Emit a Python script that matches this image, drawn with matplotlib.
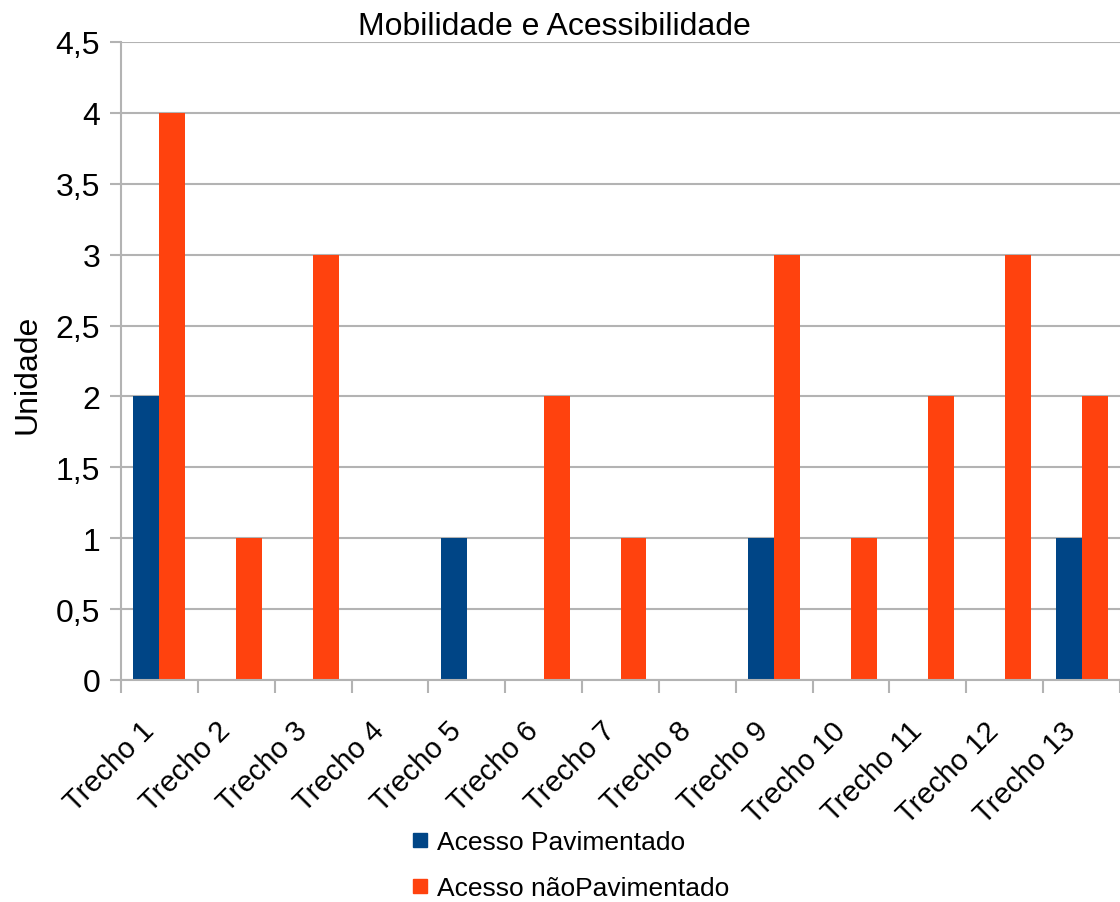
import matplotlib
matplotlib.use("Agg")
import matplotlib.pyplot as plt
from matplotlib.lines import Line2D
import numpy as np

plt.rcParams['font.family'] = ['Liberation Sans', 'DejaVu Sans']

categories = ["Trecho 1", "Trecho 2", "Trecho 3", "Trecho 4", "Trecho 5", "Trecho 6",
              "Trecho 7", "Trecho 8", "Trecho 9", "Trecho 10", "Trecho 11", "Trecho 12",
              "Trecho 13"]
acesso_pavimentado = [2, 0, 0, 0, 1, 0, 0, 0, 1, 0, 0, 0, 1]
acesso_nao_pavimentado = [4, 1, 3, 0, 0, 2, 1, 0, 3, 1, 2, 3, 2]
series_labels = ["Acesso Pavimentado", "Acesso nãoPavimentado"]
y_ticks = [0, 0.5, 1, 1.5, 2, 2.5, 3, 3.5, 4, 4.5]
y_tick_labels = ["0", "0,5", "1", "1,5", "2", "2,5", "3", "3,5", "4", "4,5"]

BLUE = "#004586"
ORANGE = "#ff420e"
GRID = "#b3b3b3"

fig = plt.figure(figsize=(11.2, 9.03), dpi=100)
ax = fig.add_axes([121 / 1120, 1 - 681 / 903, 1 - 121 / 1120, (681 - 43) / 903])

x = np.arange(len(categories))
w = 0.338
ax.bar(x - w / 2, acesso_pavimentado, width=w, color=BLUE, zorder=3)
ax.bar(x + w / 2, acesso_nao_pavimentado, width=w, color=ORANGE, zorder=3)

ax.set_xlim(-0.5, len(categories) - 0.5)
ax.set_ylim(0, 4.5)

ax.set_yticks(y_ticks)
ax.set_yticklabels(y_tick_labels, fontsize=23)
ax.yaxis.grid(True, color=GRID, linewidth=1.5, zorder=0)
ax.tick_params(axis='y', length=8, width=1.5, color=GRID, pad=7)

ax.set_xticks(x)
ax.set_xticklabels(categories, fontsize=21, rotation=45, ha='right', va='top')
ax.tick_params(axis='x', which='major', length=0, pad=26)
ax.set_xticks(np.arange(len(categories) + 1) - 0.5, minor=True)
ax.tick_params(axis='x', which='minor', length=9, width=1.5, color=GRID)

for side in ("top", "right"):
    ax.spines[side].set_visible(False)
for side in ("left", "bottom"):
    ax.spines[side].set_color(GRID)
    ax.spines[side].set_linewidth(1.5)
ax.spines["bottom"].set_zorder(4)

fig.text(554 / 1120, 1 - 35 / 903, "Mobilidade e Acessibilidade", fontsize=23,
         ha='center', va='baseline')
fig.text(27 / 1120, 1 - 374 / 903, "Unidade", fontsize=23, rotation=90,
         ha='center', va='center')

handles = [Line2D([], [], marker='s', linestyle='none', markersize=10.5,
                  markerfacecolor=c, markeredgecolor=c) for c in (BLUE, ORANGE)]
fig.legend(handles, series_labels, loc='upper left',
           bbox_to_anchor=(412 / 1120, 1 - 831 / 903), frameon=False,
           fontsize=19, handlelength=0.6, handletextpad=0.35, labelspacing=0.85,
           borderpad=0, borderaxespad=0)

fig.savefig("out.png", dpi=100)
